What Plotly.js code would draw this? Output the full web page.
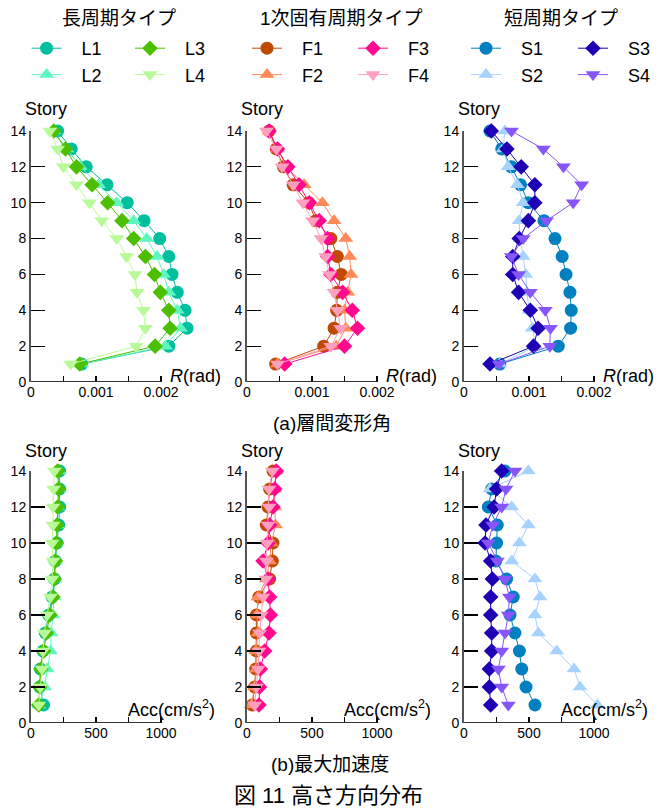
<!DOCTYPE html>
<html>
<head>
<meta charset="utf-8">
<script src="https://cdn.plot.ly/plotly-3.0.1.min.js"></script>
<style>html,body{margin:0;padding:0;background:#fff;}</style>
</head>
<body>
<div id="chart" style="width:660px;height:808px;"></div>
<script>
// ---- data ----
const stories = [1,2,3,4,5,6,7,8,9,10,11,12,13,14];

const L1_R = [0.00078,0.00212,0.0024,0.00237,0.00225,0.00217,0.00212,0.00198,0.00174,0.00148,0.00117,0.00085,0.00062,0.00041];
const L2_R = [0.00078,0.00207,0.0023,0.00225,0.00212,0.00204,0.00194,0.00178,0.00158,0.00132,0.00104,0.00076,0.00055,0.00035];
const L3_R = [0.00075,0.00191,0.00214,0.00212,0.00199,0.0019,0.00176,0.00158,0.0014,0.00118,0.00094,0.0007,0.00053,0.00035];
const L4_R = [0.00061,0.00162,0.00176,0.00173,0.00163,0.0016,0.00147,0.00132,0.00109,0.0009,0.0007,0.0005,0.00041,0.00029];

const F1_R = [0.00044,0.00118,0.00134,0.00138,0.00139,0.00145,0.00139,0.00129,0.00106,0.00095,0.00071,0.00056,0.00045,0.00034];
const F2_R = [0.00047,0.00137,0.00152,0.0015,0.00155,0.0016,0.00158,0.00152,0.00134,0.00116,0.00088,0.0006,0.00047,0.00034];
const F3_R = [0.00058,0.0015,0.0017,0.00162,0.00147,0.00129,0.00124,0.00124,0.00111,0.00096,0.0008,0.00063,0.00047,0.00034];
const F4_R = [0.00047,0.00129,0.00144,0.00139,0.00134,0.00127,0.00121,0.00114,0.00101,0.00086,0.00071,0.00054,0.00045,0.0003];

const S1_R = [0.00055,0.00145,0.00164,0.00165,0.00163,0.00157,0.00151,0.0014,0.00123,0.00099,0.00087,0.00073,0.00058,0.0004];
const S2_R = [0.00055,0.00111,0.00105,0.001,0.00097,0.00095,0.00091,0.00086,0.00085,0.00091,0.00082,0.00068,0.0006,0.00063];
const S3_R = [0.0004,0.00107,0.00114,0.00102,0.00084,0.00075,0.00075,0.00085,0.00099,0.00109,0.00109,0.00088,0.00066,0.00042];
const S4_R = [0.00054,0.00132,0.00133,0.00125,0.00102,0.00084,0.00073,0.00091,0.00127,0.00168,0.00181,0.00153,0.00122,0.00073];

const L1_A = [97,67,72,92,110,136,162,180,187,200,213,220,220,220];
const L2_A = [60,105,125,150,155,170,175,185,190,195,200,205,210,215];
const L3_A = [59,67,77,97,118,144,169,180,187,195,200,205,213,205];
const L4_A = [59,72,85,92,103,123,149,162,169,162,169,169,174,180];

const F1_A = [40,59,67,72,72,72,92,174,195,200,149,162,174,200];
const F2_A = [33,59,72,67,85,77,85,149,174,187,220,213,213,226];
const F3_A = [92,97,103,136,169,180,174,162,123,162,174,200,213,226];
const F4_A = [59,72,85,92,97,110,123,144,149,154,162,169,169,195];

const S1_A = [546,477,444,426,392,354,379,328,245,251,256,187,213,315];
const S2_A = [1026,892,846,713,572,546,585,546,367,426,495,367,200,495];
const S3_A = [205,195,195,213,213,205,205,218,205,162,169,231,251,290];
const S4_A = [341,290,264,290,315,341,349,315,256,187,221,290,323,392];

const R_ticks = [0, 0.001, 0.002];
const R_minor = [0.0005, 0.0015];
const A_ticks = [0, 500, 1000];
const A_minor = [250, 750];
const Y_ticks = [0, 2, 4, 6, 8, 10, 12, 14];

const groupTitles = ["長周期タイプ", "1次固有周期タイプ", "短周期タイプ"];
const captionA = "(a)層間変形角";
const captionB = "(b)最大加速度";
const figCaption = "図 11 高さ方向分布";
const yLabel = "Story";
const xLabelR = "<i>R</i>(rad)";
const xLabelA = "Acc(cm/s<sup>2</sup>)";

// ---- styling ----
const W = 660, H = 808;
const FONT = "Liberation Sans, Arial, Noto Sans CJK JP, sans-serif";
const series = [
  ["L1", L1_R, L1_A, "#00BF9F", "circle", 0],
  ["L2", L2_R, L2_A, "#5EF7C0", "triangle-up", 0],
  ["L3", L3_R, L3_A, "#4CBF00", "diamond", 0],
  ["L4", L4_R, L4_A, "#B8FA98", "triangle-down", 0],
  ["F1", F1_R, F1_A, "#BF4A00", "circle", 1],
  ["F2", F2_R, F2_A, "#FF8957", "triangle-up", 1],
  ["F3", F3_R, F3_A, "#FF0A8E", "diamond", 1],
  ["F4", F4_R, F4_A, "#FF9FC0", "triangle-down", 1],
  ["S1", S1_R, S1_A, "#0080C0", "circle", 2],
  ["S2", S2_R, S2_A, "#A6D2FF", "triangle-up", 2],
  ["S3", S3_R, S3_A, "#1F00B5", "diamond", 2],
  ["S4", S4_R, S4_A, "#8756FA", "triangle-down", 2]
];
const legendIds = ["legend","legend","legend2","legend2","legend3","legend3","legend4","legend4","legend5","legend5","legend6","legend6"];

const colLeft = [31, 247, 464];
const axisLenPx = 130;
const topRow = [131,382], botRow = [471,723];
const px = v => v / W;
const py = v => 1 - v / H;

const traces = [];
series.forEach((s, i) => {
  const [name, R, A, color, symbol, col] = s;
  const ax = col + 1;
  const base = {
    type: "scatter", mode: "lines+markers", y: stories, cliponaxis: false,
    line: {color: color, width: 1},
    marker: {color: color, symbol: symbol, size: symbol === "diamond" ? 12 : 13}
  };
  traces.push(Object.assign({}, base, {
    x: R, name: "\u00a0\u00a0\u00a0" + name, xaxis: "x" + ax, yaxis: "y" + ax,
    legend: legendIds[i], showlegend: true
  }));
  traces.push(Object.assign({}, base, {
    x: A, name: name, xaxis: "x" + (ax + 3), yaxis: "y" + (ax + 3), showlegend: false
  }));
});

const layout = {
  width: W, height: H,
  margin: {l: 0, r: 0, t: 0, b: 0},
  paper_bgcolor: "#fff", plot_bgcolor: "rgba(0,0,0,0)",
  font: {family: FONT, size: 14, color: "#000"},
  showlegend: true,
  annotations: [],
  shapes: [],
  hovermode: false
};

function xAxis(col, row) {
  const isR = row === 0;
  const tv = isR ? R_ticks : A_ticks;
  const axMax = tv[tv.length - 1];
  const rMax = isR ? 0.0025 : 1100;
  const lenPx = axisLenPx * rMax / axMax;
  return {
    domain: [px(colLeft[col]), px(colLeft[col] + lenPx)],
    anchor: "y" + (col + 1 + row * 3),
    range: [0, rMax],
    tickmode: "array", tickvals: tv,
    ticks: "inside", ticklen: 6, tickwidth: 1.2, tickcolor: "#000",
    minor: {tickmode: "array", tickvals: isR ? R_minor : A_minor, ticks: "inside", ticklen: 6, tickwidth: 1.2, tickcolor: "#000"},
    showline: false,
    showgrid: false, zeroline: false,
    tickfont: {size: 14, family: FONT, color: "#000"},
    fixedrange: true
  };
}
function yAxis(col, row) {
  const r = row === 0 ? topRow : botRow;
  return {
    domain: [py(r[1]), py(r[0])],
    anchor: "x" + (col + 1 + row * 3),
    range: [0, 14], tickmode: "array", tickvals: Y_ticks,
    ticks: "inside", ticklen: 14, tickwidth: 1.2, tickcolor: "#000",
    showline: true, linecolor: "#555", linewidth: 2,
    showgrid: false, zeroline: false,
    tickfont: {size: 14, family: FONT, color: "#000"},
    fixedrange: true
  };
}
for (let row = 0; row < 2; row++) {
  for (let col = 0; col < 3; col++) {
    const n = col + 1 + row * 3;
    const sfx = n === 1 ? "" : String(n);
    layout["xaxis" + sfx] = xAxis(col, row);
    layout["yaxis" + sfx] = yAxis(col, row);
    const tv = row === 0 ? R_ticks : A_ticks;
    layout.shapes.push({
      type: "line", xref: "x" + sfx, yref: "y" + sfx,
      x0: 0, x1: tv[tv.length - 1], y0: 0, y1: 0,
      line: {color: "#333", width: 2}, layer: "above"
    });
  }
}

const legendPos = [26.6, 130, 247, 353, 466, 573];
["legend","legend2","legend3","legend4","legend5","legend6"].forEach((id, k) => {
  layout[id] = {
    x: px(legendPos[k]), xanchor: "left",
    y: py(30), yanchor: "top",
    bgcolor: "rgba(0,0,0,0)", borderwidth: 0,
    font: {size: 18, family: FONT, color: "#000"},
    itemwidth: 30, tracegroupgap: 0, orientation: "v",
    itemclick: false, itemdoubleclick: false
  };
});

function ann(text, x, y, size, xanchor) {
  layout.annotations.push({
    text: text, xref: "paper", yref: "paper", x: px(x), y: py(y),
    xanchor: xanchor || "center", yanchor: "middle", showarrow: false,
    font: {size: size, family: FONT, color: "#000"}
  });
}
const titleX = [119, 341, 561];
groupTitles.forEach((t, i) => ann(t, titleX[i], 18, 19));
colLeft.forEach((c, i) => {
  ann(yLabel, c + 15, 109, 18);
  ann(yLabel, c + 15, 451, 18);
  ann(xLabelR, c + axisLenPx + 7, 376, 18, "left");
  ann(xLabelA, c + axisLenPx + 56, 708, 18, "right");
});
ann(captionA, 332, 423, 19);
ann(captionB, 330, 764, 19);
ann(figCaption, 328, 795, 22);

Plotly.newPlot("chart", traces, layout, {staticPlot: true});
</script>
</body>
</html>
